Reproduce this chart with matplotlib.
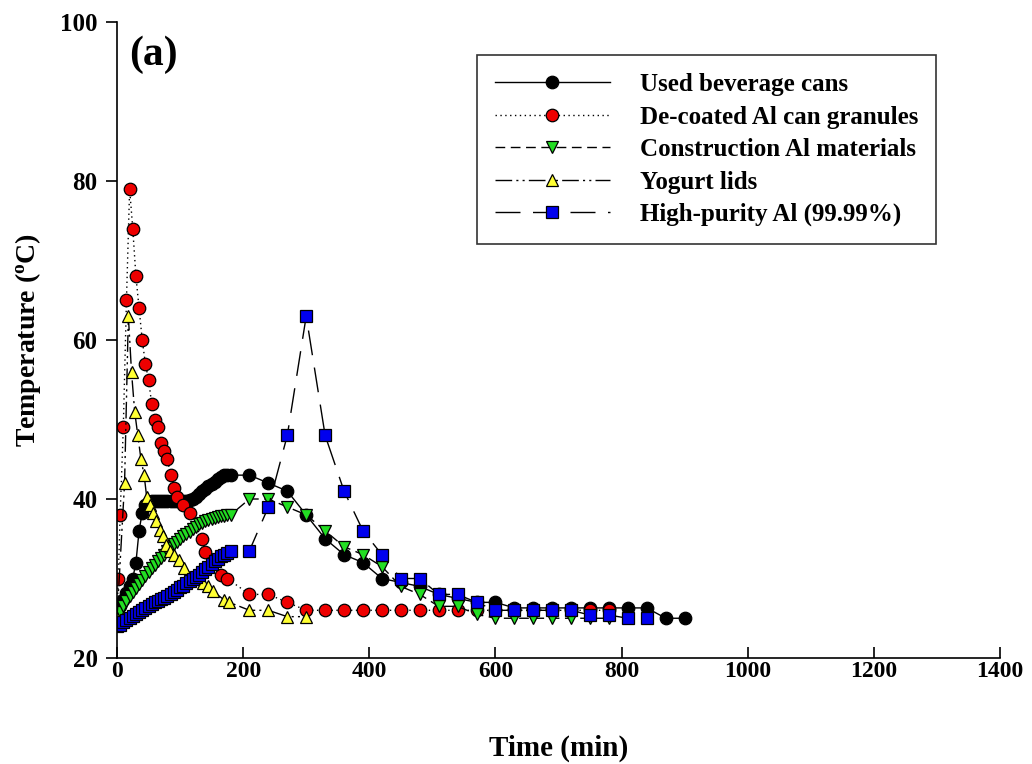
import matplotlib
matplotlib.use('Agg')
import matplotlib.pyplot as plt

plt.rcParams['font.family'] = ['Liberation Serif', 'DejaVu Serif']
plt.rcParams['font.weight'] = 'bold'
plt.rcParams['mathtext.fontset'] = 'custom'
plt.rcParams['mathtext.rm'] = 'Liberation Serif:bold'

# ---------------- data ----------------
labels = ['Used beverage cans', 'De-coated Al can granules',
          'Construction Al materials', 'Yogurt lids', 'High-purity Al (99.99%)']

dense_t = [0, 5, 10, 15, 20, 25, 30, 35, 40, 45, 50, 55, 60, 65, 70, 75, 80, 85, 90,
           95, 100, 105, 110, 115, 120, 125, 130, 135, 140, 145, 150, 155, 160, 165,
           170, 175, 180]

ubc_t = dense_t + [210, 240, 270, 300, 330, 360, 390, 420, 450, 480, 510, 540, 570,
                   600, 630, 660, 690, 720, 750, 780, 810, 840, 870, 900]
ubc_T = [25, 26.5, 27.3, 28.2, 29, 30, 32, 36, 38.3, 39.3, 39.6, 39.7, 39.7, 39.7, 39.7,
         39.7, 39.7, 39.7, 39.7, 39.7, 39.7, 39.8, 39.8, 39.9, 40.0, 40.3, 40.6, 41.0,
         41.3, 41.6, 41.9, 42.2, 42.5, 42.8, 43.0, 43.0, 43.0,
         43, 42, 41, 38, 35, 33, 32, 30, 29.5, 29, 28, 27.5, 27, 27, 26.3, 26.3, 26.3,
         26.3, 26.3, 26.3, 26.3, 26.3, 25, 25]

dec_t = [0, 2, 5, 10, 15, 20, 25, 30, 35, 40, 45, 50, 55, 60, 65, 70, 75, 80, 85, 90, 95,
         105, 115, 135, 140, 165, 175, 210, 240, 270, 300, 330, 360, 390, 420, 450, 480,
         510, 540, 570, 600, 630, 660, 690, 720, 750, 780]
dec_T = [25, 30, 38, 49, 65, 79, 74, 68, 64, 60, 57, 55, 52, 50, 49, 47, 46, 45, 43, 41.4,
         40.3, 39.3, 38.2, 35, 33.3, 30.4, 30, 28, 28, 27, 26, 26, 26, 26, 26, 26, 26, 26,
         26, 26, 26, 26, 26, 26, 26, 26, 26]

con_t = dense_t + [210, 240, 270, 300, 330, 360, 390, 420, 450, 480, 510, 540, 570, 600,
                   630, 660, 690, 720, 750, 780]
con_T = [25, 25.8, 26.5, 27.2, 27.8, 28.3, 28.8, 29.3, 29.8, 30.3, 30.8, 31.3, 31.7, 32.2,
         32.6, 33.0, 33.5, 33.9, 34.3, 34.6, 35.0, 35.3, 35.6, 35.9, 36.2, 36.5, 36.8, 37.0,
         37.2, 37.4, 37.5, 37.6, 37.7, 37.8, 37.9, 38.0, 38.0,
         40, 40, 39, 38, 36, 34, 33, 31.5, 29, 28, 26.5, 26.5, 25.5, 25, 25, 25, 25, 25, 25, 25]

yog_t = [0, 12, 18, 23, 28, 33, 38, 43, 47, 52, 57, 62, 68, 73, 78, 84, 91, 99, 107,
         136, 144, 152, 170, 178, 210, 240, 270, 300]
yog_T = [25, 42, 63, 56, 51, 48, 45, 43, 40.3, 39.2, 38.2, 37.2, 36.1, 35.3, 34.2, 33.4, 33,
         32.3, 31.3, 29.4, 29, 28.4, 27.3, 27, 26, 26, 25.2, 25.2]

hp_t = dense_t + [210, 240, 270, 300, 330, 360, 390, 420, 450, 480, 510, 540, 570, 600,
                  630, 660, 690, 720, 750, 780, 810, 840]
hp_T = [24, 24.2, 24.5, 24.8, 25.0, 25.3, 25.5, 25.8, 26.1, 26.3, 26.6, 26.8, 27.0, 27.2,
        27.4, 27.6, 27.8, 28.0, 28.3, 28.6, 28.9, 29.1, 29.4, 29.7, 30.0, 30.2, 30.5, 30.8,
        31.2, 31.5, 31.8, 32.2, 32.5, 32.8, 33.0, 33.2, 33.4,
        33.5, 39, 48, 63, 48, 41, 36, 33, 30, 30, 28, 28, 27, 26, 26, 26, 26, 26, 25.4, 25.4,
        25, 25]

x_ticks = [0, 200, 400, 600, 800, 1000, 1200, 1400]
y_ticks = [20, 40, 60, 80, 100]

# ---------------- figure ----------------
fig = plt.figure(figsize=(10.32, 7.64), dpi=100)
ax = fig.add_axes([117/1032, 1 - 658/764, (1000 - 117)/1032, (658 - 22)/764])

ms = 9
common = dict(color='black', lw=1.0, markeredgecolor='black', markeredgewidth=0.9, ms=ms)
ax.plot(ubc_t, ubc_T, marker='o', markerfacecolor='black', linestyle='-',
        label=labels[0], **common)
ax.plot(dec_t, dec_T, marker='o', markerfacecolor='#ee0000', dashes=(1, 2.5),
        label=labels[1], **common)
ax.plot(con_t, con_T, marker='v', markerfacecolor='#22dd22', dashes=(7, 4),
        label=labels[2], **common)
ax.plot(yog_t, yog_T, marker='^', markerfacecolor='#ffff33',
        dashes=(12, 3, 1.5, 3, 1.5, 3), label=labels[3], **common)
ax.plot(hp_t, hp_T, marker='s', markerfacecolor='#0000ee', dashes=(18, 9),
        label=labels[4], **common)

ax.set_xlim(0, 1400)
ax.set_ylim(20, 100)
ax.set_xticks(x_ticks)
ax.set_yticks(y_ticks)
ax.spines['top'].set_visible(False)
ax.spines['right'].set_visible(False)
for s in ['left', 'bottom']:
    ax.spines[s].set_linewidth(1.2)
ax.tick_params(axis='y', direction='out', length=8, width=1.2, pad=6, labelsize=18)
ax.tick_params(axis='x', direction='in', length=8, width=1.2, pad=2, labelsize=17)
for lab in ax.get_xticklabels() + ax.get_yticklabels():
    lab.set_fontweight('bold')

ax.set_xlabel('Time (min)', fontsize=21, fontweight='bold', labelpad=38)
ax.set_ylabel(r'Temperature ($\mathregular{^o}$C)', fontsize=20, fontweight='bold',
              labelpad=12)

ax.text(0.014, 0.978, '(a)', transform=ax.transAxes, fontsize=30, fontweight='bold',
        va='top', ha='left')

leg = ax.legend(loc='upper left', bbox_to_anchor=(0.4077, 0.948), borderaxespad=0,
                numpoints=1, handlelength=4.6, handletextpad=1.2,
                labelspacing=0.38, frameon=True, fancybox=False, borderpad=0.72,
                prop={'family': ['Liberation Serif'], 'weight': 'bold', 'size': 18})
leg.get_frame().set_edgecolor('black')
leg.get_frame().set_linewidth(1.2)

fig.savefig('out.png', dpi=100)
